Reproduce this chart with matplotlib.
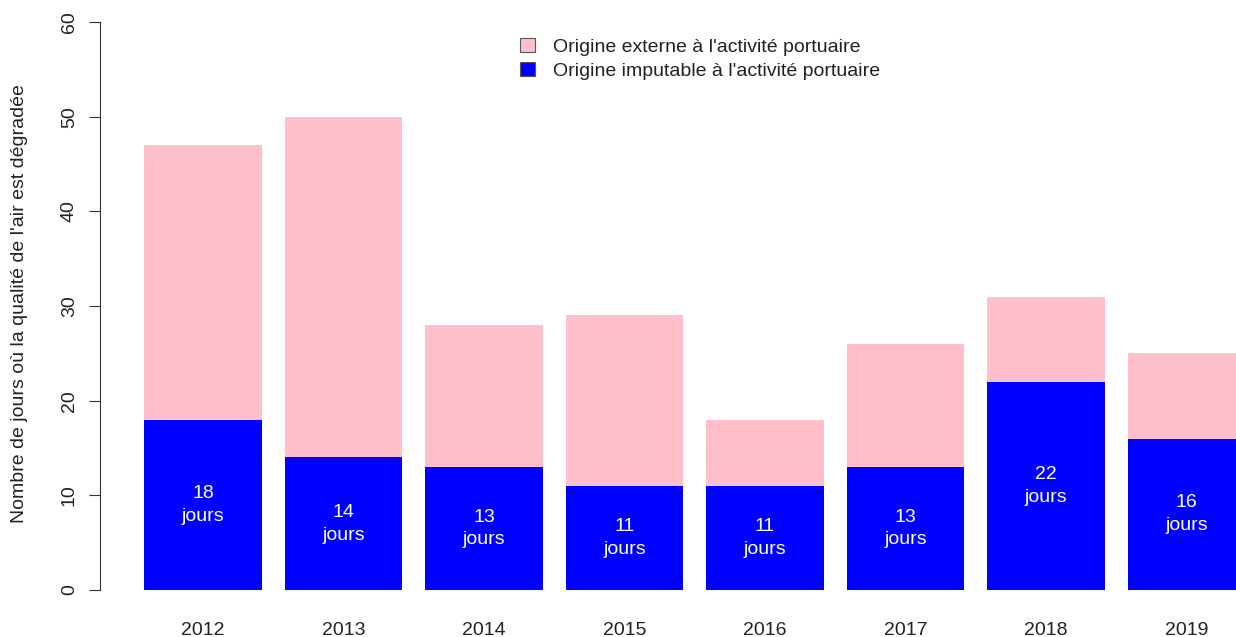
import numpy as np
import matplotlib.pyplot as plt
from matplotlib.patches import Patch

plt.rcParams['font.family'] = ['Liberation Sans', 'DejaVu Sans']

years = ['2012', '2013', '2014', '2015', '2016', '2017', '2018', '2019']
total_days = [47, 50, 28, 29, 18, 26, 31, 25]
port_days = [18, 14, 13, 11, 11, 13, 22, 16]
external_days = [t - p for t, p in zip(total_days, port_days)]

pink = '#FFC0CB'
blue = '#0000FF'
fs = 14

fig = plt.figure(figsize=(12.36, 6.37), dpi=100)
# axes spans the full width, plot region from y=0 (590px) to y=60 (22px)
ax = fig.add_axes([0, 47 / 637, 1, 568 / 637])

x = np.arange(len(years))
w = 1 / 1.2
ax.bar(x, port_days, width=w, color=blue, linewidth=0)
ax.bar(x, external_days, width=w, bottom=port_days, color=pink, linewidth=0)

for xi, p in zip(x, port_days):
    ax.text(xi, p / 2, '%d\njours' % p, color='white', ha='center', va='center',
            fontsize=fs, linespacing=1.45)

px = 140.5
ax.set_xlim(-203 / px, (1236 - 203) / px)
ax.set_ylim(0, 60)

for s in ['top', 'right', 'bottom']:
    ax.spines[s].set_visible(False)
ax.spines['left'].set_position(('data', (100 - 203) / px))
ax.spines['left'].set_bounds(0, 60)
ax.spines['left'].set_color('#333333')

ax.set_yticks(range(0, 61, 10))
ax.tick_params(axis='y', length=8, width=0.8, color='#333333', pad=8, labelsize=fs,
               labelcolor='#222222')
for lab in ax.get_yticklabels():
    lab.set_rotation(90)
    lab.set_va('center')

ax.set_xticks(x)
ax.set_xticklabels(years)
ax.tick_params(axis='x', length=0, pad=23, labelsize=fs, labelcolor='#222222')

fig.text(20 / 1236, 1 - 304 / 637, "Nombre de jours où la qualité de l'air est dégradée",
         rotation=90, ha='center', va='center', fontsize=fs, color='#222222')

handles = [Patch(facecolor=pink, edgecolor='#555555', linewidth=0.8),
           Patch(facecolor=blue, edgecolor='#555555', linewidth=0.8)]
labels = ["Origine externe à l'activité portuaire",
          "Origine imputable à l'activité portuaire"]
fig.legend(handles, labels, loc='upper left', bbox_to_anchor=(520 / 1236, 1 - 38 / 637),
           frameon=False, fontsize=fs, handlelength=0.75, handleheight=0.75,
           handletextpad=0.95, borderpad=0, borderaxespad=0, labelspacing=0.3,
           labelcolor='#222222')

fig.savefig('out.png', dpi=100)
